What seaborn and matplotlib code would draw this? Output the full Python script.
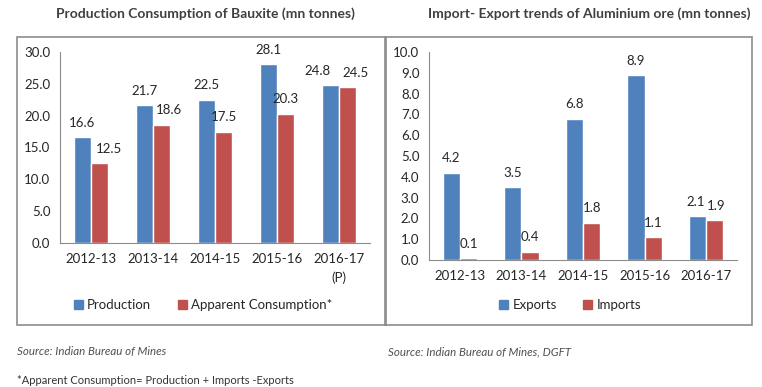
import numpy as np
import pandas as pd
import matplotlib
matplotlib.use('Agg')
import matplotlib.pyplot as plt
from matplotlib.patches import Rectangle
import seaborn as sns

# data
years_left = ['2012-13', '2013-14', '2014-15', '2015-16', '2016-17\n(P)']
production = [16.6, 21.7, 22.5, 28.1, 24.8]
consumption = [12.5, 18.6, 17.5, 20.3, 24.5]

years_right = ['2012-13', '2013-14', '2014-15', '2015-16', '2016-17']
exports = [4.2, 3.5, 6.8, 8.9, 2.1]
imports = [0.1, 0.4, 1.8, 1.1, 1.9]

blue = '#4F81BD'
red = '#C0504D'

sns.set_style('white')
plt.rcParams['font.family'] = ['Lato', 'DejaVu Sans']
plt.rcParams['font.size'] = 9

df_l = pd.DataFrame({'year': years_left * 2,
                     'value': production + consumption,
                     'series': ['Production'] * 5 + ['Apparent Consumption*'] * 5})
df_r = pd.DataFrame({'year': years_right * 2,
                     'value': exports + imports,
                     'series': ['Exports'] * 5 + ['Imports'] * 5})

W, H = 762, 387
fig = plt.figure(figsize=(W / 100, H / 100), dpi=100)


def fx(px):
    return px / W


def fy(py):
    return 1 - py / H


# panel frames
for x0, x1 in [(17, 386), (385, 752)]:
    fig.patches.append(Rectangle((fx(x0), fy(325)), fx(x1 - x0), (325 - 37) / H,
                                 transform=fig.transFigure, fill=False,
                                 edgecolor='#8c8c8c', linewidth=1.2))

ax1 = fig.add_axes([fx(60), fy(243), fx(310), (243 - 52) / H])
ax2 = fig.add_axes([fx(429), fy(260), fx(308), (260 - 52) / H])


def draw(ax, df, labels, ymax, step, legend_x, palette, shifts):
    sns.barplot(data=df, x='year', y='value', hue='series', palette=palette,
                width=0.56, ax=ax, legend=False, saturation=1)
    ax.set_ylim(0, ymax)
    ticks = np.arange(0, ymax + 0.01, step)
    ax.set_yticks(ticks)
    ax.set_yticklabels([f'{v:.1f}' for v in ticks])
    ax.set_xlim(-0.5, 4.5)
    ax.set_xticks(range(5))
    ax.set_xticklabels(labels)
    ax.set_xticks(np.arange(-0.5, 5, 1), minor=True)
    ax.tick_params(axis='x', which='major', length=0, pad=7, labelsize=9.5)
    ax.tick_params(axis='x', which='minor', length=4, color='#8c8c8c', direction='out')
    ax.tick_params(axis='y', length=4, color='#8c8c8c', direction='out', labelsize=9.5, pad=3)
    ax.set_xlabel('')
    ax.set_ylabel('')
    for s in ['top', 'right']:
        ax.spines[s].set_visible(False)
    for s in ['left', 'bottom']:
        ax.spines[s].set_color('#8c8c8c')
    for k, c in enumerate(ax.containers):
        anns = ax.bar_label(c, fmt='%.1f', padding=6, fontsize=9.5)
        for i, dx in shifts.get(k, {}).items():
            anns[i].xyann = (dx, anns[i].xyann[1])
    handles = [Rectangle((0, 0), 1, 1, color=palette[0]), Rectangle((0, 0), 1, 1, color=palette[1])]
    names = list(df['series'].unique())
    ax.legend(handles, names, loc='center', bbox_to_anchor=(fx(legend_x), fy(305)),
              bbox_transform=fig.transFigure, ncol=2, frameon=False, fontsize=9.5,
              handlelength=0.7, handleheight=0.7, handletextpad=0.3, columnspacing=2.0)


draw(ax1, df_l, years_left, 30, 5, 203, [blue, red],
     {0: {4: -9}, 1: {0: 7, 1: 5, 4: 6}})
draw(ax2, df_r, years_right, 10, 1, 570, [blue, red], {0: {4: -1}, 1: {4: 1}})

fig.text(fx(205), fy(14), 'Production Consumption of Bauxite (mn tonnes)',
         ha='center', va='center', fontsize=10, fontweight='bold', color='#404040')
fig.text(fx(589), fy(14), 'Import- Export trends of Aluminium ore (mn tonnes)',
         ha='center', va='center', fontsize=10, fontweight='bold', color='#404040')
fig.text(fx(17), fy(352), 'Source: Indian Bureau of Mines', ha='left', va='center',
         fontsize=8.3, style='italic', color='#505050')
fig.text(fx(388), fy(352), 'Source: Indian Bureau of Mines, DGFT', ha='left', va='center',
         fontsize=8.3, style='italic', color='#505050')
fig.text(fx(17), fy(380), '*Apparent Consumption= Production + Imports -Exports', ha='left',
         va='center', fontsize=8, color='#333333')

# wider gap for the two-line tick label
fig.canvas.draw()
for lbl in ax1.get_xticklabels():
    lbl.set_linespacing(1.6)

fig.savefig('out.png', dpi=100)
